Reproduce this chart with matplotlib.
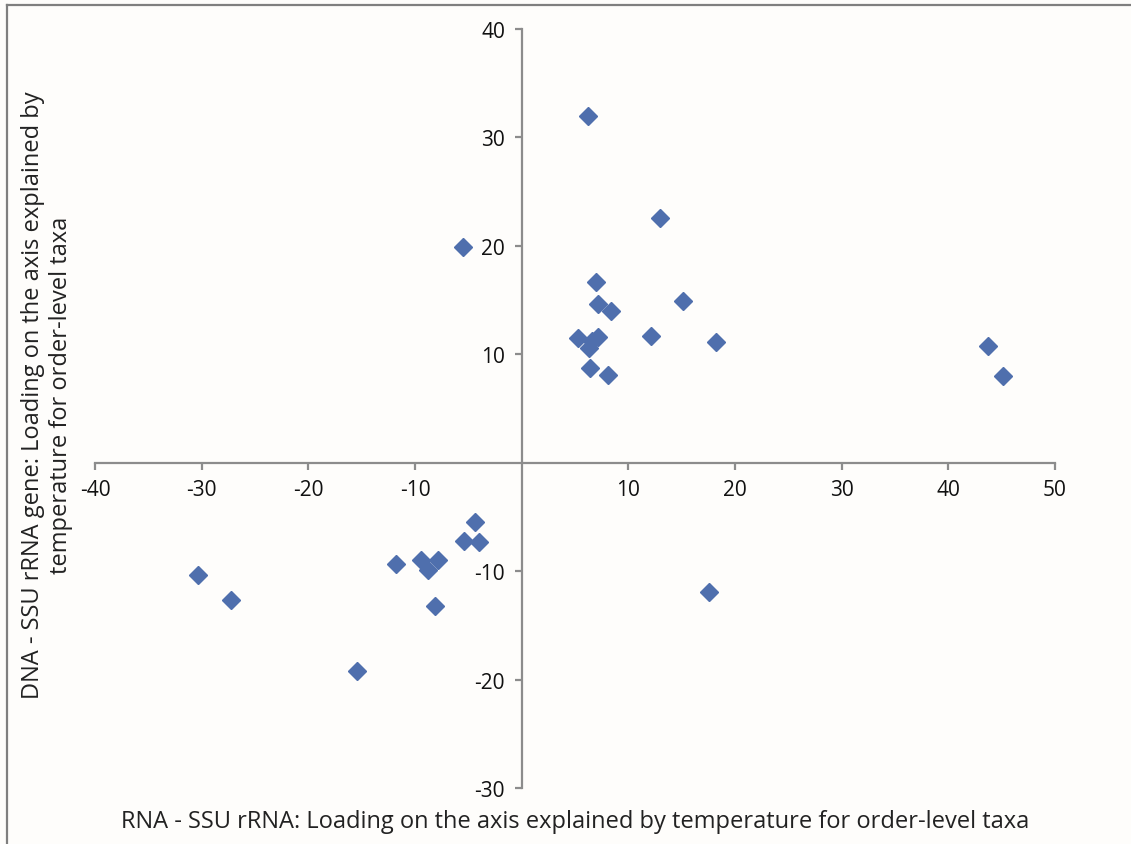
import matplotlib
matplotlib.use("Agg")
import matplotlib.pyplot as plt
from matplotlib.lines import Line2D

plt.rcParams['font.family'] = ['Open Sans', 'DejaVu Sans']

rna_loading = [6.2, 13.0, -5.5, 7.0, 7.2, 8.4, 15.1, 5.25, 6.55, 7.2, 6.35, 12.1, 18.2,
               6.4, 8.1, 43.7, 45.1, -4.4, -5.4, -4.0, -9.4, -7.8, -8.75, -11.8, -8.1,
               -30.35, -27.25, -15.4, 17.55]
dna_loading = [32.0, 22.6, 19.9, 16.7, 14.6, 14.0, 14.9, 11.5, 11.25, 11.55, 10.55, 11.65, 11.15,
               8.7, 8.1, 10.8, 8.0, -5.5, -7.25, -7.35, -9.0, -8.95, -9.9, -9.3, -13.25,
               -10.35, -12.65, -19.2, -11.9]
x_ticks = [-40, -30, -20, -10, 10, 20, 30, 40, 50]
y_ticks = [-30, -20, -10, 10, 20, 30, 40]
x_label = "RNA - SSU rRNA: Loading on the axis explained by temperature for order-level taxa"
y_label = "DNA - SSU rRNA gene: Loading on the axis explained by\ntemperature for order-level taxa"

bg = '#fefdfb'
axis_col = '#8c8c8c'
fig = plt.figure(figsize=(11.31, 8.45), dpi=100, facecolor=bg)
ax = fig.add_axes([95/1131, 56/845, 960/1131, 759/845], facecolor=bg)

ax.plot(rna_loading, dna_loading, linestyle='none', marker='D', markersize=9,
        color='#4f6fad', markeredgecolor='#4f6fad', zorder=3)

ax.set_xlim(-40, 50)
ax.set_ylim(-30, 40)
ax.spines['left'].set_position(('data', 0))
ax.spines['bottom'].set_position(('data', 0))
ax.spines['right'].set_visible(False)
ax.spines['top'].set_visible(False)
for s in ('left', 'bottom'):
    ax.spines[s].set_color(axis_col)
    ax.spines[s].set_linewidth(1.6)

ax.set_xticks(x_ticks)
ax.set_yticks(y_ticks)
ax.set_xticklabels([str(t) for t in x_ticks])
ax.set_yticklabels([str(t) for t in y_ticks])
ax.tick_params(axis='both', direction='out', length=5, width=1.6, color=axis_col,
               labelsize=15, labelcolor='#111111')
ax.tick_params(axis='x', pad=7)
ax.tick_params(axis='y', pad=7)

fig.text(575/1131, 1 - 822/845, x_label, ha='center', va='center', fontsize=17, color='#222222')
fig.text(47/1131, 1 - 395/845, y_label, ha='center', va='center', rotation=90,
         fontsize=17, color='#222222', linespacing=1.25)

# figure frame (left and top)
fig.add_artist(Line2D([7/1131, 7/1131], [0, 1 - 6/845], transform=fig.transFigure,
                      color='#7f7f7f', linewidth=1.6))
fig.add_artist(Line2D([7/1131, 1], [1 - 6/845, 1 - 6/845], transform=fig.transFigure,
                      color='#7f7f7f', linewidth=1.6))

fig.savefig('out.png', dpi=100, facecolor=bg)
